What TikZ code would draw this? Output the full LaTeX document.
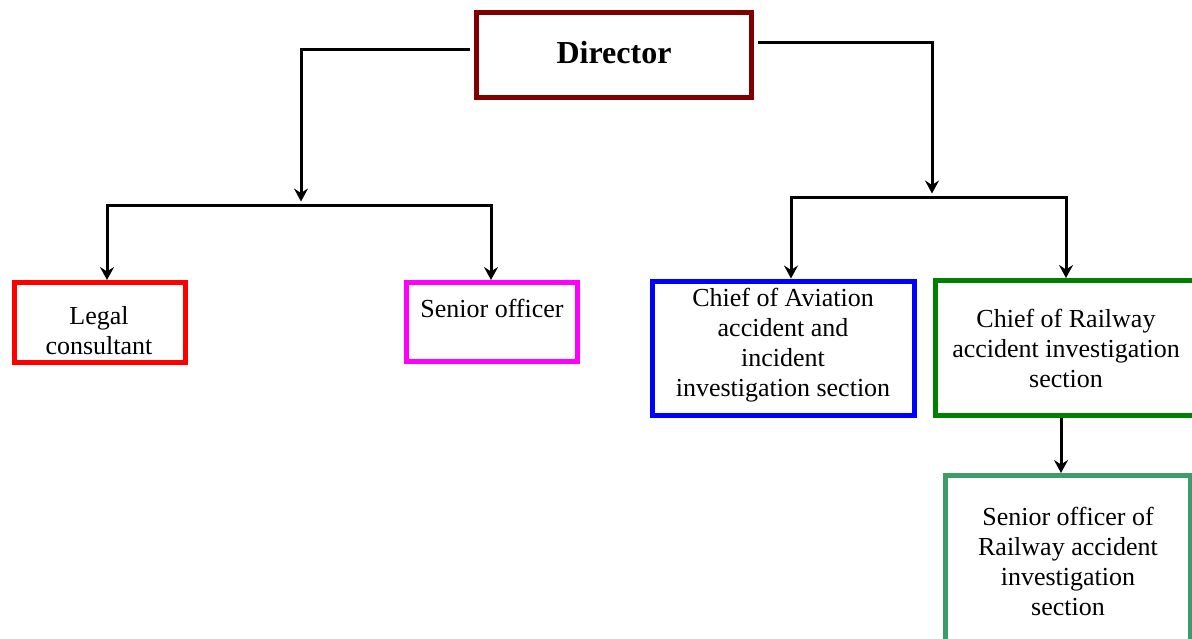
\documentclass[tikz,border=0pt]{standalone}
\usepackage{fontspec}
\setmainfont{Liberation Serif}
\usetikzlibrary{arrows.meta}
\definecolor{cdir}{RGB}{128,0,0}
\definecolor{clegal}{RGB}{255,0,0}
\definecolor{csen}{RGB}{255,0,255}
\definecolor{cav}{RGB}{0,0,255}
\definecolor{crw}{RGB}{0,128,0}
\definecolor{csrw}{RGB}{60,157,105}
\begin{document}
\begin{tikzpicture}[x=1pt,y=-1pt,
  box/.style={draw=#1, line width=5pt, inner sep=0pt, fill=white},
  txt/.style={align=center, font=\fontsize{26}{30}\selectfont, inner sep=0pt},
  tip/.style={Stealth[length=13pt,width=14pt,inset=4.5pt]},
  conn/.style={line width=3pt, -{Stealth[length=13pt,width=14pt,inset=4.5pt]}},
  conn2/.style={line width=3pt, {Stealth[length=13pt,width=14pt,inset=4.5pt]}-{Stealth[length=13pt,width=14pt,inset=4.5pt]}}]
\useasboundingbox (0,0) rectangle (1192,638);

% boxes
\node[box=cdir, minimum width=274.5pt, minimum height=85.5pt] (dir) at (613.75,54.75) {};
\node[font=\fontsize{32}{38}\selectfont\bfseries, inner sep=0pt] (dirt) at (614,52.5) {Director};

\node[box=clegal, minimum width=171pt, minimum height=80pt] (legal) at (100,322.5) {};
\node[txt] (legalt) at (99,331) {Legal\\consultant};

\node[box=csen, minimum width=171pt, minimum height=79pt] (sen) at (492,322) {};
\node[txt] (sent) at (492,308) {Senior officer};

\node[box=cav, minimum width=262.5pt, minimum height=134.5pt] (av) at (783.25,348.25) {};
\node[txt] (avt) at (783,345) {Chief of Aviation\\accident and\\incident\\investigation section};

\node[box=crw, minimum width=259pt, minimum height=135pt] (rw) at (1065,348) {};
\node[txt] (rwt) at (1066,348) {Chief of Railway\\accident investigation\\section};

\node[box=csrw, minimum width=245pt, minimum height=184.5pt] (srw) at (1068,567.75) {};
\node[txt] (srwt) at (1068,561.5) {Senior officer of\\Railway accident\\investigation\\section};

% junction coordinates
\coordinate (lj) at (301,205);
\coordinate (la) at (107,205);
\coordinate (lb) at (491,205);
\coordinate (rj) at (932,197);
\coordinate (ra) at (791,197);
\coordinate (rb) at (1066,197);

% left branch
\draw[conn] ([xshift=-4pt,yshift=5.75pt]dir.west) -| ([yshift=3.5pt]lj);
\draw[conn2] (la |- legal.north) -- (la) -- (lb) -- (lb |- sen.north);

% right branch
\draw[conn] ([xshift=4.5pt,yshift=12.75pt]dir.east) -| ([yshift=3.5pt]rj);
\draw[conn2] (ra |- av.north) -- (ra) -- (rb) -- (rb |- rw.north);

% railway to senior officer of railway
\draw[conn] ([xshift=-4pt]rw.south) -- ([xshift=-4pt]rw.south |- srw.north);
\end{tikzpicture}
\end{document}
